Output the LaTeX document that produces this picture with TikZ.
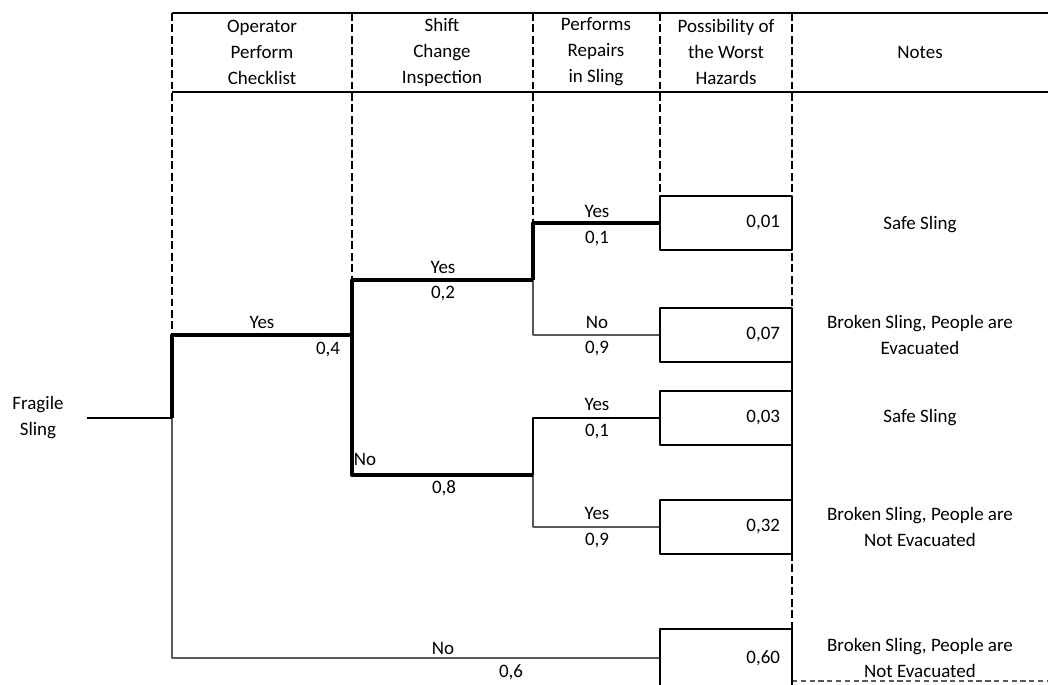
\documentclass[tikz,border=0pt]{standalone}
\usepackage{fontspec}
\setmainfont{Carlito}
\begin{document}
\begin{tikzpicture}[x=0.02cm, y=-0.02cm, font=\fontsize{10.8}{14.8}\selectfont, line join=round]
	\tikzset{col/.style={line width=1.3pt, dash pattern=on 4.5pt off 2pt},
		bold/.style={line width=2.2pt},
		mid/.style={line width=1.2pt},
		fine/.style={line width=0.6pt, black!65},
		res/.style={draw, line width=1.6pt, minimum height=1.08cm, text width=2.16cm, inner xsep=0.24cm, inner ysep=0pt, align=right},
		txt/.style={align=center, inner sep=1pt}}
	\useasboundingbox (0,0) rectangle (1048,684);
	\foreach \x/\a/\b in {172/13/335, 352/13/280, 533/13/223, 660/13/197, 792/13/308, 792/553/632} \draw[col] (\x,\a)--(\x,\b);
	\draw[mid] (792,308)--(792,553);
	\draw[line width=1.3pt] (172,13)--(1048,13) (172,92)--(1048,92);
	\draw[fine, densely dashed] (792,681)--(1048,681);
	\foreach \n/\x/\t in {h1/262/{Operator\\Perform\\Checklist}, h2/442/{Shift\\Change\\Inspection}, h3/596/{Performs\\Repairs\\in Sling}, h4/726/{Possibility of\\the Worst\\Hazards}, h5/920/Notes} \node[txt] (\n) at (\x,52) {\t};
	\node[txt, inner xsep=13pt] (root) at (38,418) {Fragile\\Sling};
	\foreach \n/\y/\v in {e1/223/{0,01}, e2/335/{0,07}, e3/418/{0,03}, e4/527/{0,32}} \node[res] (\n) at (726,\y) {\v};
	\node[res, minimum height=1.16cm] (e5) at (726,658) {0,60};
	\foreach \n/\y/\t in {m1/225/Safe Sling, m2/335/{Broken Sling, People are\\Evacuated}, m3/418/Safe Sling, m4/527/{Broken Sling, People are\\Not Evacuated}, m5/658/{Broken Sling, People are\\Not Evacuated}} \node[txt] (\n) at (920,\y) {\t};
	\foreach \n/\x/\y/\t in {l1/262/322/Yes, p1/328/350/{0,4}, l2/443/267/Yes, p2/443/294/{0,2}, l3/365/459/No, p3/444/488/{0,8}, l4/597/211/Yes, p4/597/239/{0,1}, l5/597/322/No, p5/597/349/{0,9}, l6/597/404/Yes, p6/597/432/{0,1}, l7/597/513/Yes, p7/597/541/{0,9}, l8/443/648/No, p8/511/672/{0,6}} \node[txt] (\n) at (\x,\y) {\t};
	\coordinate (j0) at (172,418);
	\coordinate (ya) at (352,335);
	\coordinate (yb) at (533,280);
	\coordinate (nb) at (533,475);
	\draw[fine] (j0)|-(e5);
	\draw[fine] (yb)|-(e2);
	\draw[fine] (nb)|-(e4);
	\draw[mid] (root)--(j0);
	\draw[mid] (nb)|-(e3);
	\draw[bold] (j0)|-(ya);
	\draw[bold] (ya)|-(yb);
	\draw[bold] (ya)|-(nb);
	\draw[bold] (yb)|-(e1);
\end{tikzpicture}
\end{document}
